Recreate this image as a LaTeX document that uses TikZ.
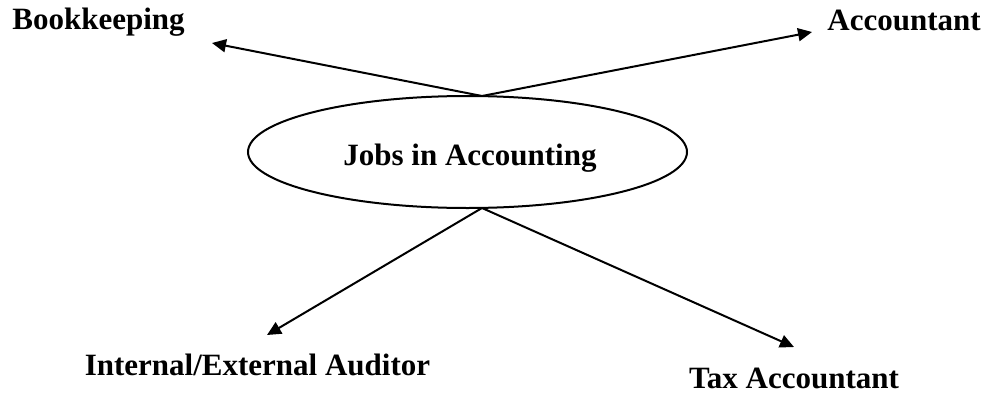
\documentclass[tikz,border=0pt]{standalone}
\usepackage{fontspec}
\setmainfont{Liberation Serif}
\usepackage{tikz}
\usetikzlibrary{arrows.meta,shapes.geometric}

\begin{document}
\begin{tikzpicture}[x=1pt,y=-1pt]
\tikzstyle{every node}+=[inner sep=0pt]
\tikzstyle{lbl}=[anchor=base,font=\fontsize{31}{37}\selectfont\bfseries]
\tikzstyle{link}=[black,line width=2pt,-{Triangle[length=14pt,width=13pt]}]
\useasboundingbox (0,0) rectangle (987,394);
\node [draw,black,line width=2pt,ellipse,minimum width=439pt,minimum height=112pt] (jobs) at (467.5,152) {};
\node [lbl] (jobstxt) at (470,165) {Jobs in Accounting};
\node [lbl] (book) at (98.5,29) {Bookkeeping};
\node [lbl] (acct) at (904,30) {Accountant};
\node [lbl] (audit) at (257.5,375) {Internal/External Auditor};
\node [lbl] (tax) at (794,388) {Tax Accountant};
\coordinate (up) at (482,96);
\coordinate (down) at (482,208);
\coordinate (bookend) at (212,43);
\coordinate (acctend) at (812,32);
\coordinate (auditend) at (267,335);
\coordinate (taxend) at (794,347);
\draw [link] (up) -- (bookend);
\draw [link] (up) -- (acctend);
\draw [link] (down) -- (auditend);
\draw [link] (down) -- (taxend);
\end{tikzpicture}
\end{document}
